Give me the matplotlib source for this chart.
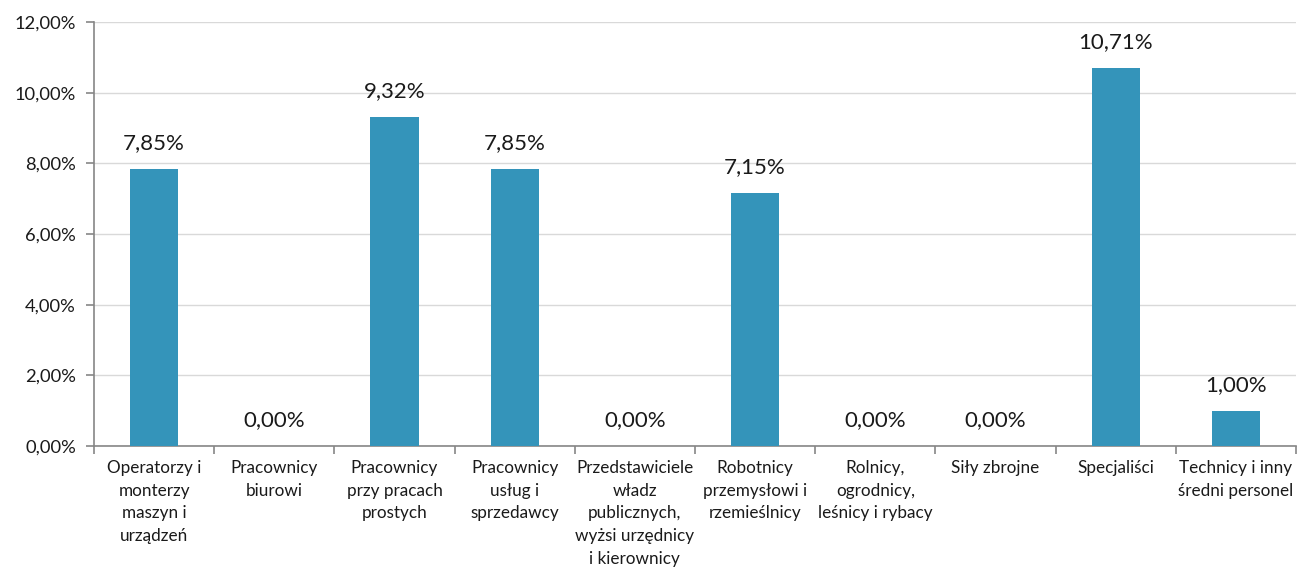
import matplotlib
matplotlib.use("Agg")
import matplotlib.pyplot as plt
from matplotlib.ticker import FuncFormatter, FixedLocator

categories = [
    "Operatorzy i\nmonterzy\nmaszyn i\nurządzeń",
    "Pracownicy\nbiurowi",
    "Pracownicy\nprzy pracach\nprostych",
    "Pracownicy\nusług i\nsprzedawcy",
    "Przedstawiciele\nwładz\npublicznych,\nwyżsi urzędnicy\ni kierownicy",
    "Robotnicy\nprzemysłowi i\nrzemieślnicy",
    "Rolnicy,\nogrodnicy,\nleśnicy i rybacy",
    "Siły zbrojne",
    "Specjaliści",
    "Technicy i inny\nśredni personel",
]
values = [7.85, 0.00, 9.32, 7.85, 0.00, 7.15, 0.00, 0.00, 10.71, 1.00]
yticks = [0, 2, 4, 6, 8, 10, 12]

plt.rcParams['font.family'] = ['Lato', 'DejaVu Sans']

fig = plt.figure(figsize=(12.97, 5.70), dpi=100)
ax = fig.add_axes([94/1297, 1-446/570, 1202/1297, (446-22)/570])

x = list(range(len(categories)))
bars = ax.bar(x, values, width=0.4, color="#3494BA", zorder=3)

for xi, v in zip(x, values):
    ax.text(xi, v + 0.45, f"{v:.2f}".replace(".", ",") + "%", ha="center",
            va="bottom", fontsize=16, color="#1a1a1a")

ax.set_xlim(-0.5, len(categories) - 0.5)
ax.set_ylim(0, 12)
ax.set_yticks(yticks)
ax.yaxis.set_major_formatter(FuncFormatter(lambda v, p: f"{v:.2f}".replace(".", ",") + "%"))
ax.grid(axis="y", color="#D9D9D9", linewidth=1, zorder=0)

ax.set_xticks(x)
ax.set_xticklabels(categories, fontsize=12.3, color="#1a1a1a", linespacing=1.52)
ax.tick_params(axis="x", length=0, pad=10)
ax.xaxis.set_minor_locator(FixedLocator([i - 0.5 for i in range(len(categories) + 1)]))
ax.tick_params(axis="x", which="minor", length=6, color="#868686", width=1.2)
ax.tick_params(axis="y", length=6, color="#868686", width=1.2, labelsize=13.2, labelcolor="#1a1a1a", pad=7)

for s in ["top", "right"]:
    ax.spines[s].set_visible(False)
for s in ["left", "bottom"]:
    ax.spines[s].set_color("#868686")
    ax.spines[s].set_linewidth(1.2)

fig.savefig("out.png", dpi=100)
